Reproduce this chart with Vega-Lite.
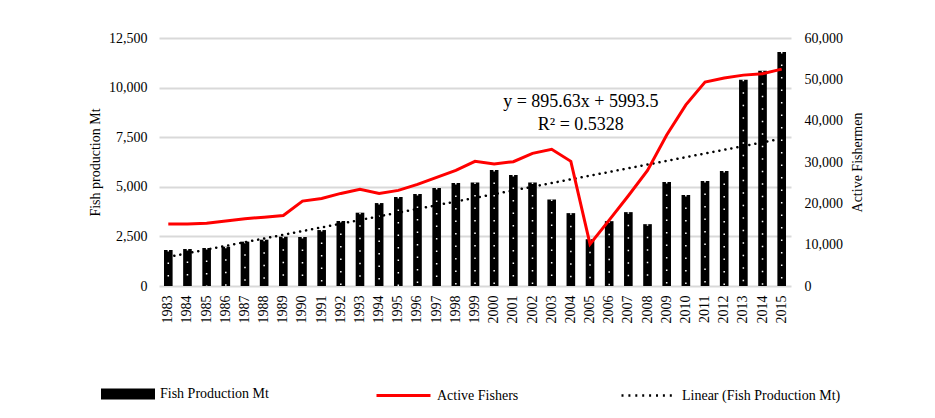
{
  "$schema": "https://vega.github.io/schema/vega-lite/v6.json",
  "width": 632,
  "height": 248,
  "autosize": {"type": "none"},
  "padding": {"left": 159, "top": 38, "right": 144, "bottom": 132},
  "background": "white",
  "config": {
    "font": "Liberation Serif",
    "view": {"stroke": null},
    "axis": {
      "labelFont": "Liberation Serif",
      "labelFontSize": 14,
      "labelColor": "#000",
      "titleFont": "Liberation Serif",
      "titleFontSize": 14,
      "titleFontWeight": "normal",
      "titleColor": "#000",
      "ticks": false,
      "domain": false,
      "gridColor": "#d9d9d9",
      "gridWidth": 2
    },
    "legend": {
      "orient": "none",
      "labelFont": "Liberation Serif",
      "labelFontSize": 14,
      "labelColor": "#000",
      "labelOffset": 5,
      "title": null
    }
  },
  "data": {
    "values": [
      {"year": 1983, "fish": 1815, "fishers": 15000},
      {"year": 1984, "fish": 1865, "fishers": 15000},
      {"year": 1985, "fish": 1915, "fishers": 15200},
      {"year": 1986, "fish": 1980, "fishers": 15750},
      {"year": 1987, "fish": 2235, "fishers": 16250},
      {"year": 1988, "fish": 2335, "fishers": 16660},
      {"year": 1989, "fish": 2485, "fishers": 17060},
      {"year": 1990, "fish": 2470, "fishers": 20540},
      {"year": 1991, "fish": 2820, "fishers": 21190},
      {"year": 1992, "fish": 3275, "fishers": 22400},
      {"year": 1993, "fish": 3695, "fishers": 23370},
      {"year": 1994, "fish": 4180, "fishers": 22400},
      {"year": 1995, "fish": 4485, "fishers": 23130},
      {"year": 1996, "fish": 4635, "fishers": 24580},
      {"year": 1997, "fish": 4940, "fishers": 26280},
      {"year": 1998, "fish": 5190, "fishers": 27980},
      {"year": 1999, "fish": 5222, "fishers": 30160},
      {"year": 2000, "fish": 5846, "fishers": 29510},
      {"year": 2001, "fish": 5593, "fishers": 30080},
      {"year": 2002, "fish": 5222, "fishers": 32100},
      {"year": 2003, "fish": 4363, "fishers": 33070},
      {"year": 2004, "fish": 3673, "fishers": 30160},
      {"year": 2005, "fish": 2358, "fishers": 10110},
      {"year": 2006, "fish": 3268, "fishers": 15930},
      {"year": 2007, "fish": 3723, "fishers": 21830},
      {"year": 2008, "fish": 3117, "fishers": 27980},
      {"year": 2009, "fish": 5239, "fishers": 36550},
      {"year": 2010, "fish": 4582, "fishers": 43830},
      {"year": 2011, "fish": 5290, "fishers": 49330},
      {"year": 2012, "fish": 5795, "fishers": 50300},
      {"year": 2013, "fish": 10394, "fishers": 51020},
      {"year": 2014, "fish": 10849, "fishers": 51350},
      {"year": 2015, "fish": 11792, "fishers": 52480}
    ]
  },
  "encoding": {
    "x": {
      "field": "year",
      "type": "ordinal",
      "title": null,
      "scale": {"paddingInner": 0.55, "paddingOuter": 0.26},
      "axis": {"labelAngle": -90, "labelPadding": 9, "grid": false}
    }
  },
  "layer": [
    {
      "layer": [
        {
          "mark": {"type": "bar", "color": "black"},
          "encoding": {
            "y": {
              "field": "fish",
              "type": "quantitative",
              "title": "Fish production Mt",
              "scale": {"domain": [0, 12500], "nice": false},
              "axis": {"values": [0, 2500, 5000, 7500, 10000, 12500], "format": ",.0f", "labelPadding": 12, "titlePadding": 6}
            },
            "color": {
              "datum": "Fish Production Mt",
              "scale": {"range": ["black"]},
              "legend": {
                "symbolType": "M-1,-0.2H1V0.2H-1Z",
                "symbolSize": 2916,
                "symbolStrokeWidth": 0,
                "legendX": -58,
                "legendY": 329
              }
            }
          }
        },
        {
          "mark": {"type": "rule", "color": "white", "strokeWidth": 1.5, "strokeDash": [1.5, 11]},
          "encoding": {
            "y": {"field": "fish", "type": "quantitative"},
            "y2": {"datum": 0}
          }
        },
        {
          "transform": [{"regression": "fish", "on": "year", "method": "linear"}],
          "mark": {"type": "line", "strokeWidth": 2.5, "strokeCap": "round", "strokeDash": [0.1, 6]},
          "encoding": {
            "y": {"field": "fish", "type": "quantitative"},
            "color": {
              "datum": "Linear (Fish Production Mt)",
              "scale": {"range": ["black"]},
              "legend": {
                "symbolType": "stroke",
                "symbolSize": 2916,
                "symbolStrokeWidth": 2.5,
                "symbolDash": [2, 4.9],
                "legendX": 461,
                "legendY": 329
              }
            }
          }
        },
        {
          "data": {"values": [{}]},
          "mark": {"type": "text", "fontSize": 18, "font": "Liberation Serif", "align": "center", "baseline": "middle", "lineHeight": 23, "dx": 10},
          "encoding": {
            "x": {"datum": 2004},
            "y": {"datum": 9274},
            "text": {"value": ["y = 895.63x + 5993.5", "R² = 0.5328"]}
          }
        }
      ],
      "resolve": {"scale": {"color": "independent"}}
    },
    {
      "mark": {"type": "line", "color": "#ff0000", "strokeWidth": 3},
      "encoding": {
        "y": {
          "field": "fishers",
          "type": "quantitative",
          "title": "Active Fishermen",
          "scale": {"domain": [0, 60000], "nice": false},
          "axis": {"orient": "right", "values": [0, 10000, 20000, 30000, 40000, 50000, 60000], "format": ",.0f", "grid": false, "labelPadding": 13, "titleAngle": 270, "titleBaseline": "top", "titlePadding": 8}
        },
        "color": {
          "datum": "Active Fishers",
          "scale": {"range": ["#ff0000"]},
          "legend": {
            "symbolType": "stroke",
            "symbolSize": 2916,
            "symbolStrokeWidth": 3,
            "legendX": 216,
            "legendY": 329
          }
        }
      }
    }
  ],
  "resolve": {"scale": {"y": "independent", "color": "independent"}, "axis": {"y": "independent"}}
}
